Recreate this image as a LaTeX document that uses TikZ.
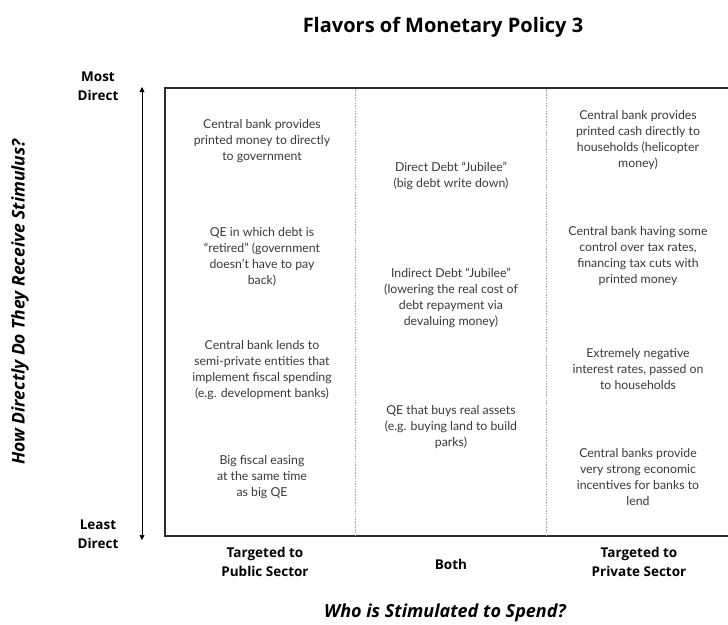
\documentclass[tikz,border=0pt]{standalone}
\usepackage{fontspec}
\setmainfont{Lato}
\newfontfamily\headfont{Open Sans}
\usetikzlibrary{arrows.meta}
\definecolor{txt}{HTML}{3A3A3A}
\definecolor{frame}{HTML}{2A2A2A}
\begin{document}
\begin{tikzpicture}[x=1pt,y=-1pt,
  cell/.style={align=center, text=txt, font=\fontsize{12.3}{16}\selectfont, inner sep=0pt},
  axislab/.style={align=center, text=black, font=\headfont\bfseries\fontsize{13.5}{19}\selectfont, inner sep=0pt},
  divider/.style={draw=gray!70, line width=0.6pt, dash pattern=on 1.5pt off 1.2pt},
  framel/.style={draw=frame, line width=1.4pt}]
\useasboundingbox[fill=white] (0,0) rectangle (728,624);
% title
\node[font=\headfont\bfseries\fontsize{20}{22}\selectfont, text=black, inner sep=0pt] (title) at (443,27) {Flavors of Monetary Policy 3};
% frame
\coordinate (tl) at (165,88);
\coordinate (tr) at (728,88);
\coordinate (bl) at (165,536);
\coordinate (br) at (728,536);
\draw[framel] (tr) -- (tl) -- (bl) -- (br);
% dividers
\coordinate (d1t) at (355,89);
\coordinate (d1b) at (355,535);
\coordinate (d2t) at (546,89);
\coordinate (d2b) at (546,535);
\draw[divider] (d1t) -- (d1b);
\draw[divider] (d2t) -- (d2b);
% vertical axis
\coordinate (at) at (142,87);
\coordinate (ab) at (142,540);
\draw[line width=0.8pt, {Triangle[length=5pt,width=5pt]}-{Triangle[length=5pt,width=5pt]}] (at) -- (ab);
\node[axislab] (most) at (98,86) {Most\\Direct};
\node[axislab] (least) at (98,534) {Least\\Direct};
\node[font=\headfont\bfseries\itshape\fontsize{17.5}{18}\selectfont, rotate=90, inner sep=0pt] (ylab) at (20,302) {How Directly Do They Receive Stimulus?};
% column 1
\node[cell] (c11) at (262,141.5) {Central bank provides\\printed money to directly\\to government};
\node[cell] (c12) at (262,257) {QE in which debt is\\``retired'' (government\\doesn't have to pay\\back)};
\node[cell] (c13) at (262,370) {Central bank lends to\\semi-private entities that\\implement fiscal spending\\(e.g. development banks)};
\node[cell] (c14) at (262,477) {Big fiscal easing\\at the same time\\as big QE};
% column 2
\node[cell] (c21) at (451,176) {Direct Debt ``Jubilee''\\(big debt write down)};
\node[cell] (c22) at (451,298) {Indirect Debt ``Jubilee''\\(lowering the real cost of\\debt repayment via\\devaluing money)};
\node[cell] (c23) at (451,427) {QE that buys real assets\\(e.g. buying land to build\\parks)};
% column 3
\node[cell] (c31) at (638,140) {Central bank provides\\printed cash directly to\\households (helicopter\\money)};
\node[cell] (c32) at (638,256.5) {Central bank having some\\control over tax rates,\\financing tax cuts with\\printed money};
\node[cell] (c33) at (638,369) {Extremely negative\\interest rates, passed on\\to households};
\node[cell] (c34) at (638,477) {Central banks provide\\very strong economic\\incentives for banks to\\lend};
% x labels
\node[axislab] (xpub) at (265,561.5) {Targeted to\\Public Sector};
\node[axislab] (xboth) at (451,564) {Both};
\node[axislab] (xpriv) at (639,561.5) {Targeted to\\Private Sector};
\node[font=\headfont\bfseries\itshape\fontsize{18}{20}\selectfont, inner sep=0pt] (xlab) at (445,613) {Who is Stimulated to Spend?};
\end{tikzpicture}
\end{document}
